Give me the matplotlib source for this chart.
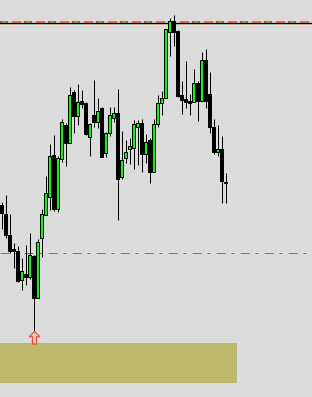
"""Candlestick chart with levels, arrow and zone (terminal style)"""

import numpy as np
import matplotlib
matplotlib.use('Agg')
from matplotlib import pyplot as plt
from matplotlib.path import Path

plt.rcParams['lines.scale_dashes'] = False

# OHLC (arbitrary price units)
opens = [195, 186, 165, 151, 149, 120, 126, 123, 144, 102,
         162, 185, 203, 245, 191, 241, 275, 257, 308, 284,
         299, 297, 263, 285, 278, 292, 247, 267, 282, 287,
         223, 242, 251, 252, 273, 277, 246, 260, 228, 276,
         297, 302, 368, 379, 369, 305, 301, 299, 298, 317,
         299, 340, 306, 273, 248, 251, 218]
highs = [198, 205, 186, 157, 154, 142, 155, 167, 145, 161,
         191, 224, 256, 265, 244, 281, 277, 313, 310, 316,
         310, 298, 277, 320, 302, 293, 268, 293, 293, 311,
         269, 260, 262, 280, 280, 281, 266, 262, 281, 305,
         309, 371, 382, 385, 370, 319, 339, 306, 331, 319,
         348, 351, 328, 281, 275, 264, 227]
lows = [171, 162, 147, 132, 118, 110, 115, 121, 69, 102,
        143, 185, 190, 189, 188, 238, 234, 257, 267, 275,
        292, 265, 244, 273, 272, 243, 243, 264, 278, 180,
        221, 237, 236, 231, 235, 228, 237, 217, 228, 273,
        285, 302, 344, 354, 303, 286, 292, 285, 298, 279,
        299, 292, 267, 246, 244, 197, 197]
closes = [187, 165, 149, 149, 119, 129, 123, 145, 102, 158,
          186, 207, 244, 191, 242, 278, 257, 305, 284, 298,
          296, 266, 276, 278, 289, 243, 267, 285, 287, 221,
          240, 248, 254, 276, 277, 246, 258, 228, 276, 297,
          302, 371, 379, 368, 304, 300, 298, 297, 317, 299,
          340, 299, 273, 248, 251, 219, 217]

# horizontal levels
high_line = 376.7
ask_line = 377.7
mid_level = 147

# zone rectangle (bar index range, price range)
zone_left, zone_right = -1, 58.9
zone_low, zone_high = 17, 57

# signal arrow under bar 8
arrow_bar = 8

bg = '#DCDCDC'
bull = '#00FF00'
bear = '#000000'
red = '#E84A1E'
px = 0.72  # one pixel in points at dpi 100

fig = plt.figure(figsize=(3.12, 3.97), dpi=100, facecolor=bg)
ax = fig.add_axes([0, 0, 1, 1], facecolor=bg)
ax.set_xlim(-0.375, 77.625)
ax.set_ylim(3, 400)
ax.axis('off')

x = np.arange(len(opens))
o = np.array(opens, float)
c = np.array(closes, float)
up = c > o

# zone
ax.fill_between([zone_left, zone_right], zone_low, zone_high,
                color='#BEB86C', lw=0, zorder=1)

# levels
ax.axhline(mid_level, color=red, lw=1 * px, dashes=(9 * px, 6 * px, 3 * px, 6 * px), zorder=2)
ax.axhline(high_line, color='black', lw=1.4 * px, zorder=2)
ax.axhline(ask_line + 0.3, color=red, lw=1.5 * px, dashes=(7 * px, 5 * px, 9 * px, 3 * px), zorder=3)
ax.axhline(ask_line + 0.3, color='#1E8C1E', lw=1.5 * px, dashes=(2 * px, 4 * px, 2 * px, 16 * px), zorder=4)

# wicks
ax.vlines(x, lows, highs, color='black', lw=1 * px, zorder=5)

# bodies
bottoms = np.minimum(o, c)
heights = np.maximum(np.abs(c - o), 1.0)
ax.bar(x[up], heights[up], bottom=bottoms[up], width=0.7,
       color=bull, edgecolor='black', linewidth=1 * px, zorder=6)
ax.bar(x[~up], heights[~up], bottom=bottoms[~up], width=0.7,
       color=bear, edgecolor='black', linewidth=1 * px, zorder=6)

# hollow up arrow, tip at the bar low
arrow = Path([(0, 0), (0.5, -0.5), (0.2, -0.5), (0.2, -1.2),
              (-0.2, -1.2), (-0.2, -0.5), (-0.5, -0.5), (0, 0)],
             closed=True)
ax.plot(x[arrow_bar], lows[arrow_bar], marker=arrow, markersize=25 * px,
        markerfacecolor='#F6C4BC', markeredgecolor='#EE4A3A',
        markeredgewidth=1.2 * px, linestyle='none', zorder=7)

plt.savefig('out.png', dpi=100, facecolor=bg)
